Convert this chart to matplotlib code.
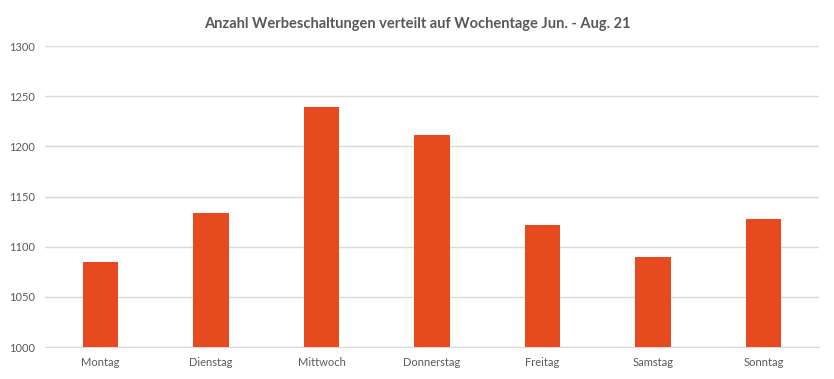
from matplotlib import pyplot as plt

days = ["Montag", "Dienstag", "Mittwoch", "Donnerstag", "Freitag", "Samstag", "Sonntag"]
counts = [1085, 1134, 1239, 1211, 1122, 1090, 1128]
y_ticks = [1000, 1050, 1100, 1150, 1200, 1250, 1300]

plt.rcParams['font.family'] = ['Lato', 'DejaVu Sans']

fig = plt.figure(figsize=(8.34, 3.79), dpi=100)
ax = fig.add_axes([0.054, 0.0844, 0.928, 0.7942])

ax.bar(days, counts, width=0.32, color="#E64A1E", zorder=3)
ax.set_ylim(1000, 1300)
ax.set_xlim(-0.5, len(days) - 0.5)
ax.set_yticks(y_ticks)
ax.grid(axis="y", color="#D9D9D9", linewidth=1, zorder=0)

for side in ["top", "right", "left"]:
    ax.spines[side].set_visible(False)
ax.spines["bottom"].set_color("#D9D9D9")

ax.tick_params(axis="both", length=0, labelsize=8, colors="#595959")
ax.tick_params(axis="x", pad=7)
ax.tick_params(axis="y", pad=7)

fig.suptitle("Anzahl Werbeschaltungen verteilt auf Wochentage Jun. - Aug. 21",
             y=0.955, fontsize=10.5, fontweight="bold", color="#595959")

fig.savefig("out.png", dpi=100)
